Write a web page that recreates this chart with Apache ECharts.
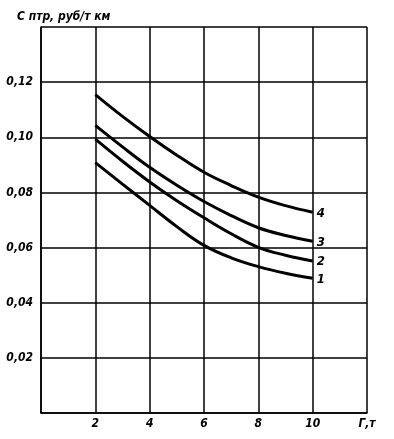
<!DOCTYPE html>
<html><head><meta charset="utf-8">
<script src="https://cdn.jsdelivr.net/npm/echarts@6/dist/echarts.min.js"></script>
<style>html,body{margin:0;padding:0;background:#fff}#c{width:394px;height:439px}</style>
</head><body><div id="c"></div>
<script>
var xValues = [2, 3, 4, 5, 6, 7, 8, 9, 10];
var curve1 = [0.0908, 0.0830, 0.0753, 0.0676, 0.0608, 0.0563, 0.0531, 0.0507, 0.0489];
var curve2 = [0.0993, 0.0913, 0.0838, 0.0770, 0.0708, 0.0650, 0.0601, 0.0572, 0.0551];
var curve3 = [0.1043, 0.0965, 0.0891, 0.0826, 0.0767, 0.0716, 0.0672, 0.0644, 0.0623];
var curve4 = [0.1155, 0.1076, 0.1003, 0.0935, 0.0873, 0.0825, 0.0783, 0.0752, 0.0728];
var curveNames = ['1', '2', '3', '4'];
var yTitle = 'С птр, руб/т км';
var xUnit = 'Г,т';

var FONT = '"Liberation Sans Narrow", "DejaVu Sans Condensed", sans-serif';
function pairs(ys){ return xValues.map(function(x,i){ return [x, ys[i]]; }); }
var all = [curve1, curve2, curve3, curve4];
var series = all.map(function(d, i){
  return {
    type: 'line', name: curveNames[i], data: pairs(d), smooth: 0.4,
    symbol: 'none', lineStyle: {color: '#000', width: 3},
    endLabel: {show: true, formatter: '{a}', color: '#000', fontFamily: FONT,
      fontStyle: 'italic', fontWeight: 'bold', fontSize: 13, distance: 2, offset: [2, 1]},
    z: 3
  };
});
var chart = echarts.init(document.getElementById('c'));
chart.setOption({
  animation: false,
  backgroundColor: '#fff',
  title: {text: yTitle, left: 12, top: 6,
    textStyle: {fontFamily: FONT, fontStyle: 'italic', fontWeight: 'bold', fontSize: 12, color: '#000'}},
  grid: {left: 41, right: 27, top: 27, bottom: 26},
  xAxis: {type: 'value', min: 0, max: 12, interval: 2,
    axisLine: {lineStyle: {color: '#000', width: 1.5}},
    axisTick: {show: false},
    splitLine: {show: true, lineStyle: {color: '#000', width: 1.5}},
    axisLabel: {color: '#000', fontFamily: FONT, fontStyle: 'italic', fontWeight: 'bold', fontSize: 12, margin: 5,
      showMaxLabel: true,
      formatter: function(v){ if (v === 0) return ''; if (v === 12) return xUnit; return String(v); }}},
  yAxis: {type: 'value', min: 0, max: 0.14, interval: 0.02,
    axisLine: {show: true, lineStyle: {color: '#000', width: 1.5}},
    axisTick: {show: false},
    splitLine: {show: true, lineStyle: {color: '#000', width: 1.5}},
    axisLabel: {color: '#000', fontFamily: FONT, fontStyle: 'italic', fontWeight: 'bold', fontSize: 12, margin: 8,
      formatter: function(v){ if (v < 0.001 || v > 0.139) return ''; return v.toFixed(2).replace('.', ','); }}},
  series: series
});
</script></body></html>
